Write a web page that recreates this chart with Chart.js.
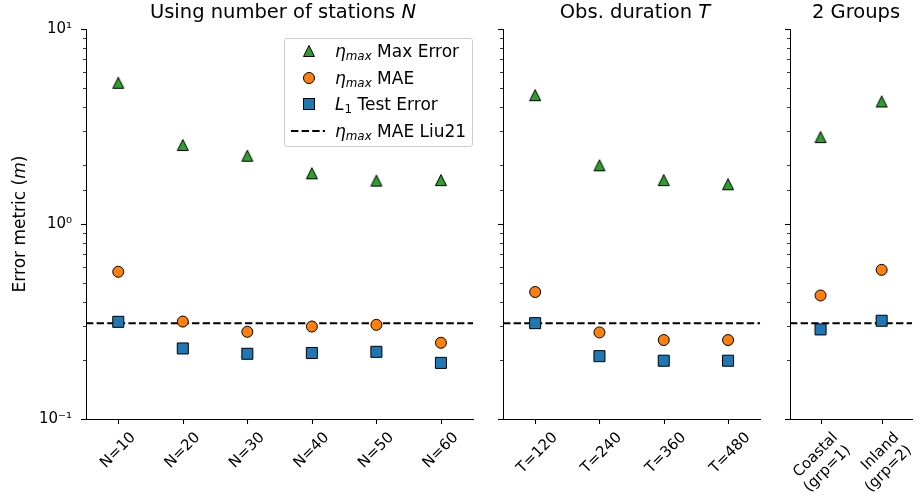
<!DOCTYPE html>
<html>
<head>
<meta charset="utf-8">
<script src="https://cdn.jsdelivr.net/npm/chart.js@4.4.0/dist/chart.umd.min.js"></script>
<style>
  body { margin: 0; background: #fff; font-family: "DejaVu Sans", sans-serif; color: #000; }
  #fig { position: relative; width: 921px; height: 501px; overflow: hidden; }
  #fig canvas { position: absolute; top: 0; }
  .title { position: absolute; top: 0px; font-size: 19.5px; line-height: 24px; text-align: center; white-space: nowrap; }
  .ylabel { position: absolute; width: 240px; left: -101px; top: 213px; font-size: 17px; line-height: 22px;
            text-align: center; transform: rotate(-90deg); white-space: nowrap; }
  .legend { position: absolute; left: 284px; top: 38px; width: 187px; height: 107px; border: 1px solid #cccccc;
            border-radius: 3px; background: rgba(255,255,255,0.8); }
  .legend .row { position: absolute; left: 0; height: 22px; width: 187px; font-size: 17px; line-height: 22px; white-space: nowrap; }
  .legend svg { position: absolute; left: 4px; top: 3px; }
  .legend .txt { position: absolute; left: 50px; top: 0; }
  sub { font-size: 70%; vertical-align: -3px; line-height: 0; }
</style>
</head>
<body>
<div id="fig">
  <canvas id="panelN" width="482" height="501" style="left:0px;width:482px;height:501px"></canvas>
  <canvas id="panelT" width="287" height="501" style="left:482px;width:287px;height:501px"></canvas>
  <canvas id="panelG" width="152" height="501" style="left:769px;width:152px;height:501px"></canvas>

  <div class="title" style="left:83px;width:400px">Using number of stations <i>N</i></div>
  <div class="title" style="left:485px;width:300px">Obs. duration <i>T</i></div>
  <div class="title" style="left:756px;width:200px">2 Groups</div>
  <div class="ylabel">Error metric (<i>m</i>)</div>

  <div class="legend">
    <div class="row" style="top:1px">
      <svg width="40" height="16"><polygon points="20,2.5 14.5,13.5 25.5,13.5" fill="#2ca02c" stroke="#000" stroke-width="1"/></svg>
      <span class="txt"><i>η<sub>max</sub></i> Max Error</span>
    </div>
    <div class="row" style="top:28px">
      <svg width="40" height="16"><circle cx="20" cy="8" r="5.5" fill="#ff7f0e" stroke="#000" stroke-width="1"/></svg>
      <span class="txt"><i>η<sub>max</sub></i> MAE</span>
    </div>
    <div class="row" style="top:54px">
      <svg width="40" height="16"><rect x="14.5" y="2.5" width="11" height="11" fill="#1f77b4" stroke="#000" stroke-width="1"/></svg>
      <span class="txt"><i>L</i><sub>1</sub> Test Error</span>
    </div>
    <div class="row" style="top:81px">
      <svg width="40" height="16"><line x1="2" y1="8" x2="36" y2="8" stroke="#000" stroke-width="2" stroke-dasharray="7.4,3.2"/></svg>
      <span class="txt"><i>η<sub>max</sub></i> MAE Liu21</span>
    </div>
  </div>
</div>

<script>
// categories
const stationLabels = ['N=10', 'N=20', 'N=30', 'N=40', 'N=50', 'N=60'];
const durationLabels = ['T=120', 'T=240', 'T=360', 'T=480'];
const groupLabels = [['Coastal', '(grp=1)'], ['Inland', '(grp=2)']];

// values (metres, log axis)
const stationMaxErr = [5.30, 2.54, 2.24, 1.82, 1.67, 1.68];
const stationMAE    = [0.569, 0.316, 0.280, 0.298, 0.304, 0.246];
const stationL1     = [0.315, 0.230, 0.216, 0.218, 0.221, 0.194];

const durationMaxErr = [4.58, 2.00, 1.68, 1.60];
const durationMAE    = [0.448, 0.278, 0.254, 0.254];
const durationL1     = [0.310, 0.210, 0.199, 0.199];

const groupMaxErr = [2.79, 4.25];
const groupMAE    = [0.430, 0.582];
const groupL1     = [0.288, 0.319];

const liu21MAE = 0.31;

// y tick labels
const yTickValues = [0.1, 1, 10];
const yTickLabels = ['10⁻¹', '10⁰', '10¹'];

const FONT = 'DejaVu Sans';

// matplotlib-like '^' marker
function triangleMarker() {
  const c = document.createElement('canvas');
  c.width = 16; c.height = 16;
  const g = c.getContext('2d');
  g.beginPath();
  g.moveTo(8, 2.5); g.lineTo(13.5, 13.5); g.lineTo(2.5, 13.5); g.closePath();
  g.fillStyle = '#2ca02c'; g.fill();
  g.lineWidth = 1; g.strokeStyle = '#000'; g.stroke();
  return c;
}
const triImg = triangleMarker();

// small tick marks like matplotlib (major/minor on log axis)
const tickMarks = {
  id: 'tickMarks',
  afterDraw(chart) {
    const ctx = chart.ctx, xs = chart.scales.x, ys = chart.scales.y;
    ctx.save();
    ctx.strokeStyle = '#000';
    ys.ticks.forEach(t => {
      const lg = Math.log10(t.value);
      const major = Math.abs(lg - Math.round(lg)) < 1e-6;
      const y = Math.round(ys.getPixelForValue(t.value)) + 0.5;
      ctx.lineWidth = major ? 1.1 : 0.8;
      ctx.beginPath();
      ctx.moveTo(chart.chartArea.left, y);
      ctx.lineTo(chart.chartArea.left - (major ? 5 : 3), y);
      ctx.stroke();
    });
    ctx.lineWidth = 1.1;
    xs.ticks.forEach(t => {
      const x = Math.round(xs.getPixelForValue(t.value)) + 0.5;
      ctx.beginPath();
      ctx.moveTo(x, chart.chartArea.bottom);
      ctx.lineTo(x, chart.chartArea.bottom + 5);
      ctx.stroke();
    });
    ctx.restore();
  }
};

function makePanel(id, labels, maxErr, mae, l1, cfg) {
  const n = labels.length;
  const pts = arr => arr.map((v, i) => ({ x: i, y: v }));
  return new Chart(document.getElementById(id), {
    type: 'scatter',
    data: {
      datasets: [
        {
          label: 'ηmax Max Error',
          data: pts(maxErr),
          pointStyle: triImg,
          pointRadius: 7,
          order: 3
        },
        {
          label: 'ηmax MAE',
          data: pts(mae),
          pointStyle: 'circle',
          pointRadius: 5.5,
          backgroundColor: '#ff7f0e',
          borderColor: '#000',
          borderWidth: 1,
          order: 2
        },
        {
          label: 'L1 Test Error',
          data: pts(l1),
          pointStyle: 'rect',
          pointRadius: 7.8,
          backgroundColor: '#1f77b4',
          borderColor: '#000',
          borderWidth: 1,
          order: 1
        },
        {
          label: 'ηmax MAE Liu21',
          data: [{ x: -0.5, y: liu21MAE }, { x: n - 0.5, y: liu21MAE }],
          showLine: true,
          borderColor: '#000',
          borderWidth: 2,
          borderDash: [7.4, 3.2],
          pointRadius: 0,
          order: 10
        }
      ]
    },
    options: {
      responsive: false,
      animation: false,
      events: [],
      layout: { padding: { left: 0, right: cfg.padRight, top: 29, bottom: 0 } },
      plugins: { legend: { display: false }, tooltip: { enabled: false }, title: { display: false } },
      scales: {
        x: {
          type: 'linear',
          min: -0.5,
          max: n - 0.5,
          afterBuildTicks: s => { s.ticks = labels.map((_, i) => ({ value: i })); },
          afterFit: s => { s.height = 82; s.paddingLeft = 0; s.paddingRight = 0; },
          grid: { display: false, drawTicks: false },
          border: { display: true, color: '#000', width: 1 },
          ticks: {
            autoSkip: false,
            minRotation: 45,
            maxRotation: 45,
            padding: cfg.xPad,
            labelOffset: cfg.labelOffset,
            color: '#000',
            font: { family: FONT, size: 15 },
            callback: v => labels[v]
          }
        },
        y: {
          type: 'logarithmic',
          min: 0.1,
          max: 10,
          afterFit: s => { s.width = cfg.yWidth; s.paddingTop = 0; s.paddingBottom = 0; },
          grid: { display: false, drawTicks: false },
          border: { display: true, color: '#000', width: 1 },
          ticks: {
            display: cfg.showY,
            autoSkip: false,
            padding: 14,
            color: '#000',
            font: { family: FONT, size: 15 },
            callback: v => {
              const k = yTickValues.findIndex(t => Math.abs(t - v) < 1e-9);
              return k >= 0 ? yTickLabels[k] : '';
            }
          }
        }
      }
    },
    plugins: [tickMarks]
  });
}

makePanel('panelN', stationLabels, stationMaxErr, stationMAE, stationL1,
  { yWidth: 86, padRight: 2, showY: true, xPad: 10, labelOffset: 15 });
makePanel('panelT', durationLabels, durationMaxErr, durationMAE, durationL1,
  { yWidth: 21, padRight: 2, showY: false, xPad: 10, labelOffset: 20 });
makePanel('panelG', groupLabels, groupMaxErr, groupMAE, groupL1,
  { yWidth: 21, padRight: 0, showY: false, xPad: 10, labelOffset: 15 });
</script>
</body>
</html>
